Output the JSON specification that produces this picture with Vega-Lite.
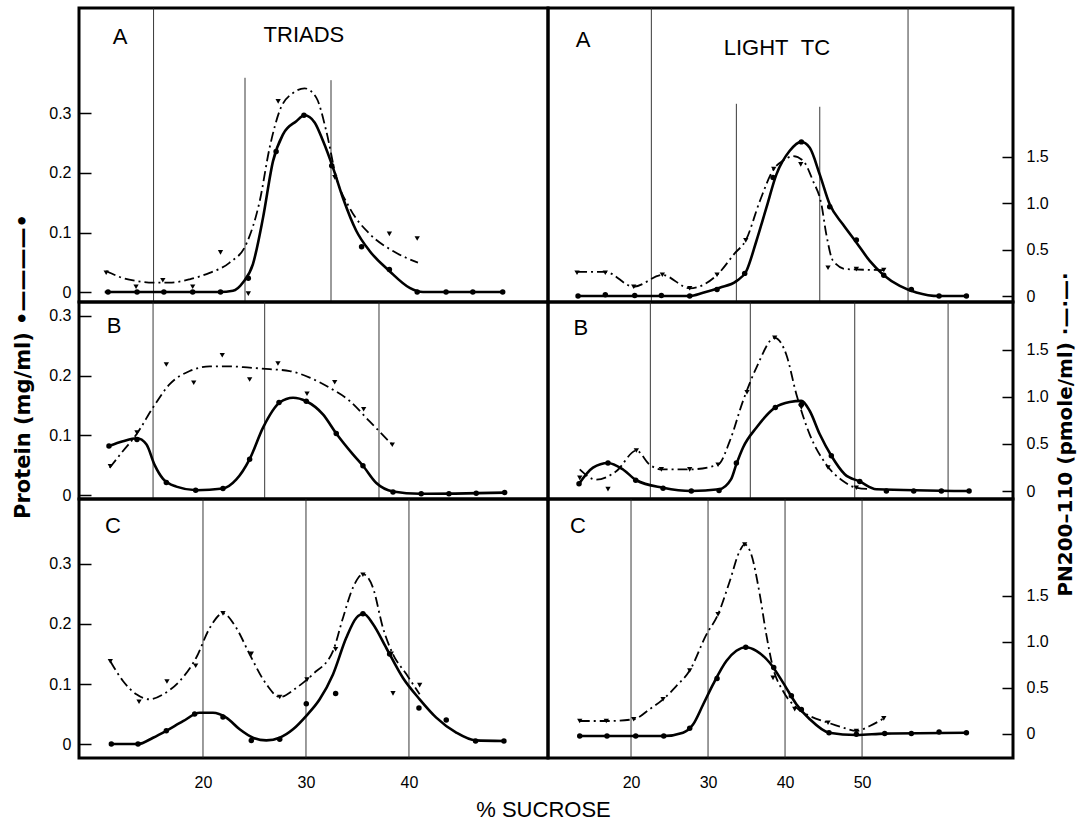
{
"$schema": "https://vega.github.io/schema/vega-lite/v6.json",
"padding": {"left": 10, "top": 6, "right": 1, "bottom": 2},
"background": "white",
"config": {"view": {"stroke": "black", "strokeWidth": 3}, "font": "Liberation Sans", "axis": {"labelFont": "Liberation Sans", "labelColor": "black", "titleColor": "black", "labelFlush": false, "labelOverlap": false, "labelBound": false}},
"title": {"text": "% SUCROSE", "orient": "bottom", "anchor": "middle", "fontSize": 22, "font": "Liberation Sans", "fontWeight": "normal", "offset": 8, "color": "black"},
"data": {"values": [
{"p":"AL","s":"g","x":15.2,"y":-1,"y2":1},{"p":"AL","s":"g","x":24.08,"y":-1,"y2":0.36},{"p":"AL","s":"g","x":32.43,"y":-1,"y2":0.356},
{"p":"AL","s":"pd","x":10.78,"y":0},{"p":"AL","s":"pd","x":13.6,"y":0},{"p":"AL","s":"pd","x":16.2,"y":0},{"p":"AL","s":"pd","x":19.0,"y":0},{"p":"AL","s":"pd","x":21.7,"y":0},{"p":"AL","s":"pd","x":24.4,"y":0.023},{"p":"AL","s":"pd","x":27.1,"y":0.236},{"p":"AL","s":"pd","x":29.8,"y":0.297},{"p":"AL","s":"pd","x":32.5,"y":0.212},{"p":"AL","s":"pd","x":35.4,"y":0.076},{"p":"AL","s":"pd","x":38.1,"y":0.038},{"p":"AL","s":"pd","x":40.8,"y":0},{"p":"AL","s":"pd","x":43.6,"y":0},{"p":"AL","s":"pd","x":46.2,"y":0},{"p":"AL","s":"pd","x":49.1,"y":0},
{"p":"AL","s":"pc","x":10.46,"y":0},{"p":"AL","s":"pc","x":21.62,"y":0},{"p":"AL","s":"pc","x":22.91,"y":0.002},{"p":"AL","s":"pc","x":23.88,"y":0.016},{"p":"AL","s":"pc","x":24.85,"y":0.047},{"p":"AL","s":"pc","x":25.83,"y":0.125},{"p":"AL","s":"pc","x":26.8,"y":0.22},{"p":"AL","s":"pc","x":27.77,"y":0.265},{"p":"AL","s":"pc","x":29.06,"y":0.287},{"p":"AL","s":"pc","x":29.87,"y":0.297},{"p":"AL","s":"pc","x":30.84,"y":0.285},{"p":"AL","s":"pc","x":31.65,"y":0.254},{"p":"AL","s":"pc","x":32.62,"y":0.209},{"p":"AL","s":"pc","x":33.59,"y":0.158},{"p":"AL","s":"pc","x":34.88,"y":0.103},{"p":"AL","s":"pc","x":36.18,"y":0.069},{"p":"AL","s":"pc","x":38.12,"y":0.035},{"p":"AL","s":"pc","x":40.07,"y":0.007},{"p":"AL","s":"pc","x":41.36,"y":0},{"p":"AL","s":"pc","x":49.13,"y":0},
{"p":"AL","s":"nd","x":10.6,"y":0.25},{"p":"AL","s":"nd","x":13.5,"y":0.10},{"p":"AL","s":"nd","x":16.1,"y":0.17},{"p":"AL","s":"nd","x":19.0,"y":0.10},{"p":"AL","s":"nd","x":21.7,"y":0.47},{"p":"AL","s":"nd","x":24.4,"y":0.025},{"p":"AL","s":"nd","x":27.3,"y":2.10},{"p":"AL","s":"nd","x":32.8,"y":1.28},{"p":"AL","s":"nd","x":38.1,"y":0.67},{"p":"AL","s":"nd","x":40.8,"y":0.62},
{"p":"AL","s":"nc","x":10.61,"y":0.27},{"p":"AL","s":"nc","x":11.91,"y":0.205},{"p":"AL","s":"nc","x":13.53,"y":0.162},{"p":"AL","s":"nc","x":15.15,"y":0.144},{"p":"AL","s":"nc","x":16.77,"y":0.144},{"p":"AL","s":"nc","x":18.71,"y":0.18},{"p":"AL","s":"nc","x":20.65,"y":0.25},{"p":"AL","s":"nc","x":22.59,"y":0.36},{"p":"AL","s":"nc","x":24.2,"y":0.56},{"p":"AL","s":"nc","x":25.5,"y":1.02},{"p":"AL","s":"nc","x":26.47,"y":1.6},{"p":"AL","s":"nc","x":27.45,"y":2.0},{"p":"AL","s":"nc","x":28.74,"y":2.19},{"p":"AL","s":"nc","x":29.87,"y":2.24},{"p":"AL","s":"nc","x":31.0,"y":2.14},{"p":"AL","s":"nc","x":31.97,"y":1.78},{"p":"AL","s":"nc","x":32.94,"y":1.28},{"p":"AL","s":"nc","x":34.24,"y":0.95},{"p":"AL","s":"nc","x":36.18,"y":0.67},{"p":"AL","s":"nc","x":38.45,"y":0.485},{"p":"AL","s":"nc","x":40.87,"y":0.36},
{"p":"AL","s":"lt","x":11.94,"y":0.4286,"t":"A"},{"p":"AL","s":"tt","x":29.8,"y":0.432,"t":"TRIADS"},

{"p":"AR","s":"g","x":22.64,"y":-1,"y2":1},{"p":"AR","s":"g","x":33.68,"y":-1,"y2":0.323},{"p":"AR","s":"g","x":44.51,"y":-1,"y2":0.318},{"p":"AR","s":"g","x":55.97,"y":-1,"y2":1},
{"p":"AR","s":"pd","x":13.12,"y":0},{"p":"AR","s":"pd","x":16.66,"y":0.002},{"p":"AR","s":"pd","x":20.48,"y":0.001},{"p":"AR","s":"pd","x":23.94,"y":0.001},{"p":"AR","s":"pd","x":27.62,"y":0},{"p":"AR","s":"pd","x":31.17,"y":0.011},{"p":"AR","s":"pd","x":34.76,"y":0.038},{"p":"AR","s":"pd","x":38.44,"y":0.199},{"p":"AR","s":"pd","x":42.12,"y":0.259},{"p":"AR","s":"pd","x":45.8,"y":0.15},{"p":"AR","s":"pd","x":49.26,"y":0.094},{"p":"AR","s":"pd","x":52.82,"y":0.035},{"p":"AR","s":"pd","x":56.4,"y":0.011},{"p":"AR","s":"pd","x":60.0,"y":0},{"p":"AR","s":"pd","x":63.55,"y":0},
{"p":"AR","s":"pc","x":13.12,"y":0},{"p":"AR","s":"pc","x":27.62,"y":0},{"p":"AR","s":"pc","x":29.35,"y":0.0055},{"p":"AR","s":"pc","x":31.52,"y":0.014},{"p":"AR","s":"pc","x":33.68,"y":0.025},{"p":"AR","s":"pc","x":34.98,"y":0.042},{"p":"AR","s":"pc","x":36.27,"y":0.092},{"p":"AR","s":"pc","x":37.57,"y":0.148},{"p":"AR","s":"pc","x":38.87,"y":0.204},{"p":"AR","s":"pc","x":40.61,"y":0.244},{"p":"AR","s":"pc","x":42.12,"y":0.259},{"p":"AR","s":"pc","x":43.21,"y":0.249},{"p":"AR","s":"pc","x":44.51,"y":0.204},{"p":"AR","s":"pc","x":45.8,"y":0.154},{"p":"AR","s":"pc","x":47.53,"y":0.12},{"p":"AR","s":"pc","x":49.26,"y":0.09},{"p":"AR","s":"pc","x":51.0,"y":0.059},{"p":"AR","s":"pc","x":52.82,"y":0.035},{"p":"AR","s":"pc","x":54.9,"y":0.017},{"p":"AR","s":"pc","x":57.05,"y":0.006},{"p":"AR","s":"pc","x":60.0,"y":0},{"p":"AR","s":"pc","x":63.55,"y":0},
{"p":"AR","s":"nd","x":12.99,"y":0.25},{"p":"AR","s":"nd","x":16.66,"y":0.25},{"p":"AR","s":"nd","x":20.35,"y":0.10},{"p":"AR","s":"nd","x":24.07,"y":0.23},{"p":"AR","s":"nd","x":27.62,"y":0.083},{"p":"AR","s":"nd","x":31.17,"y":0.23},{"p":"AR","s":"nd","x":34.9,"y":0.60},{"p":"AR","s":"nd","x":38.53,"y":1.37},{"p":"AR","s":"nd","x":42.04,"y":1.42},{"p":"AR","s":"nd","x":45.58,"y":0.305},{"p":"AR","s":"nd","x":49.26,"y":0.29},{"p":"AR","s":"nd","x":52.82,"y":0.28},
{"p":"AR","s":"nc","x":12.99,"y":0.26},{"p":"AR","s":"nc","x":16.66,"y":0.26},{"p":"AR","s":"nc","x":20.35,"y":0.10},{"p":"AR","s":"nc","x":24.07,"y":0.227},{"p":"AR","s":"nc","x":27.62,"y":0.083},{"p":"AR","s":"nc","x":31.17,"y":0.227},{"p":"AR","s":"nc","x":33.46,"y":0.46},{"p":"AR","s":"nc","x":34.9,"y":0.60},{"p":"AR","s":"nc","x":36.71,"y":1.02},{"p":"AR","s":"nc","x":38.53,"y":1.37},{"p":"AR","s":"nc","x":39.74,"y":1.46},{"p":"AR","s":"nc","x":41.04,"y":1.51},{"p":"AR","s":"nc","x":42.34,"y":1.46},{"p":"AR","s":"nc","x":43.64,"y":1.24},{"p":"AR","s":"nc","x":44.72,"y":0.99},{"p":"AR","s":"nc","x":45.37,"y":0.66},{"p":"AR","s":"nc","x":46.23,"y":0.38},{"p":"AR","s":"nc","x":47.96,"y":0.29},{"p":"AR","s":"nc","x":52.82,"y":0.28},
{"p":"AR","s":"lt","x":13.77,"y":0.43,"t":"A"},{"p":"AR","s":"tt","x":38.94,"y":0.416,"t":"LIGHT\u00a0\u00a0TC"},

{"p":"BL","s":"g","x":15.15,"y":-1,"y2":1},{"p":"BL","s":"g","x":25.99,"y":-1,"y2":1},{"p":"BL","s":"g","x":37.09,"y":-1,"y2":1},
{"p":"BL","s":"pd","x":10.87,"y":0.082},{"p":"BL","s":"pd","x":13.59,"y":0.093},{"p":"BL","s":"pd","x":16.44,"y":0.021},{"p":"BL","s":"pd","x":19.29,"y":0.008},{"p":"BL","s":"pd","x":21.94,"y":0.011},{"p":"BL","s":"pd","x":24.53,"y":0.06},{"p":"BL","s":"pd","x":27.38,"y":0.155},{"p":"BL","s":"pd","x":30.03,"y":0.157},{"p":"BL","s":"pd","x":32.94,"y":0.103},{"p":"BL","s":"pd","x":35.53,"y":0.049},{"p":"BL","s":"pd","x":38.45,"y":0.005},{"p":"BL","s":"pd","x":41.19,"y":0.002},{"p":"BL","s":"pd","x":43.88,"y":0.002},{"p":"BL","s":"pd","x":46.53,"y":0.003},{"p":"BL","s":"pd","x":49.29,"y":0.004},
{"p":"BL","s":"pc","x":10.87,"y":0.082},{"p":"BL","s":"pc","x":12.23,"y":0.09},{"p":"BL","s":"pc","x":13.59,"y":0.095},{"p":"BL","s":"pc","x":14.5,"y":0.085},{"p":"BL","s":"pc","x":15.31,"y":0.05},{"p":"BL","s":"pc","x":16.12,"y":0.027},{"p":"BL","s":"pc","x":17.41,"y":0.014},{"p":"BL","s":"pc","x":19.35,"y":0.008},{"p":"BL","s":"pc","x":21.94,"y":0.011},{"p":"BL","s":"pc","x":23.24,"y":0.026},{"p":"BL","s":"pc","x":24.53,"y":0.06},{"p":"BL","s":"pc","x":25.83,"y":0.113},{"p":"BL","s":"pc","x":27.45,"y":0.155},{"p":"BL","s":"pc","x":28.74,"y":0.163},{"p":"BL","s":"pc","x":30.03,"y":0.157},{"p":"BL","s":"pc","x":31.65,"y":0.135},{"p":"BL","s":"pc","x":32.94,"y":0.103},{"p":"BL","s":"pc","x":34.56,"y":0.068},{"p":"BL","s":"pc","x":35.53,"y":0.049},{"p":"BL","s":"pc","x":36.83,"y":0.02},{"p":"BL","s":"pc","x":38.45,"y":0.006},{"p":"BL","s":"pc","x":41.04,"y":0.002},{"p":"BL","s":"pc","x":49.29,"y":0.004},
{"p":"BL","s":"nd","x":11.0,"y":0.18},{"p":"BL","s":"nd","x":13.59,"y":0.54},{"p":"BL","s":"nd","x":16.44,"y":1.27},{"p":"BL","s":"nd","x":19.1,"y":1.075},{"p":"BL","s":"nd","x":21.87,"y":1.37},{"p":"BL","s":"nd","x":24.53,"y":1.11},{"p":"BL","s":"nd","x":27.28,"y":1.28},{"p":"BL","s":"nd","x":30.1,"y":0.957},{"p":"BL","s":"nd","x":32.79,"y":1.08},{"p":"BL","s":"nd","x":35.6,"y":0.79},{"p":"BL","s":"nd","x":38.38,"y":0.41},
{"p":"BL","s":"nc","x":10.94,"y":0.164},{"p":"BL","s":"nc","x":12.23,"y":0.343},{"p":"BL","s":"nc","x":13.53,"y":0.52},{"p":"BL","s":"nc","x":15.15,"y":0.81},{"p":"BL","s":"nc","x":16.77,"y":1.06},{"p":"BL","s":"nc","x":18.71,"y":1.2},{"p":"BL","s":"nc","x":20.65,"y":1.25},{"p":"BL","s":"nc","x":22.59,"y":1.25},{"p":"BL","s":"nc","x":24.53,"y":1.236},{"p":"BL","s":"nc","x":26.47,"y":1.22},{"p":"BL","s":"nc","x":28.42,"y":1.2},{"p":"BL","s":"nc","x":30.36,"y":1.13},{"p":"BL","s":"nc","x":32.3,"y":1.02},{"p":"BL","s":"nc","x":34.24,"y":0.88},{"p":"BL","s":"nc","x":36.18,"y":0.66},{"p":"BL","s":"nc","x":38.38,"y":0.41},
{"p":"BL","s":"lt","x":11.36,"y":0.283,"t":"B"},

{"p":"BR","s":"g","x":22.51,"y":-1,"y2":1},{"p":"BR","s":"g","x":35.49,"y":-1,"y2":1},{"p":"BR","s":"g","x":49.05,"y":-1,"y2":1},{"p":"BR","s":"g","x":61.17,"y":-1,"y2":1},
{"p":"BR","s":"pd","x":13.25,"y":0.012},{"p":"BR","s":"pd","x":17.01,"y":0.047},{"p":"BR","s":"pd","x":20.61,"y":0.018},{"p":"BR","s":"pd","x":24.16,"y":0.0045},{"p":"BR","s":"pd","x":27.83,"y":0},{"p":"BR","s":"pd","x":31.43,"y":0.001},{"p":"BR","s":"pd","x":33.68,"y":0.047},{"p":"BR","s":"pd","x":38.74,"y":0.14},{"p":"BR","s":"pd","x":42.12,"y":0.145},{"p":"BR","s":"pd","x":46.01,"y":0.059},{"p":"BR","s":"pd","x":49.7,"y":0.016},{"p":"BR","s":"pd","x":53.16,"y":0},{"p":"BR","s":"pd","x":56.71,"y":0},{"p":"BR","s":"pd","x":60.3,"y":0},{"p":"BR","s":"pd","x":63.9,"y":0},
{"p":"BR","s":"pc","x":13.25,"y":0.012},{"p":"BR","s":"pc","x":15.06,"y":0.039},{"p":"BR","s":"pc","x":17.01,"y":0.047},{"p":"BR","s":"pc","x":18.96,"y":0.036},{"p":"BR","s":"pc","x":20.69,"y":0.018},{"p":"BR","s":"pc","x":24.16,"y":0.0055},{"p":"BR","s":"pc","x":27.83,"y":0},{"p":"BR","s":"pc","x":31.43,"y":0.003},{"p":"BR","s":"pc","x":33.0,"y":0.02},{"p":"BR","s":"pc","x":33.68,"y":0.045},{"p":"BR","s":"pc","x":34.55,"y":0.073},{"p":"BR","s":"pc","x":36.27,"y":0.106},{"p":"BR","s":"pc","x":38.74,"y":0.14},{"p":"BR","s":"pc","x":40.61,"y":0.149},{"p":"BR","s":"pc","x":42.12,"y":0.151},{"p":"BR","s":"pc","x":43.21,"y":0.134},{"p":"BR","s":"pc","x":44.51,"y":0.095},{"p":"BR","s":"pc","x":46.01,"y":0.059},{"p":"BR","s":"pc","x":47.75,"y":0.028},{"p":"BR","s":"pc","x":49.7,"y":0.016},{"p":"BR","s":"pc","x":51.86,"y":0.003},{"p":"BR","s":"pc","x":63.9,"y":0},
{"p":"BR","s":"nd","x":13.34,"y":0.14},{"p":"BR","s":"nd","x":17.01,"y":0.02},{"p":"BR","s":"nd","x":20.69,"y":0.43},{"p":"BR","s":"nd","x":23.94,"y":0.23},{"p":"BR","s":"nd","x":27.62,"y":0.23},{"p":"BR","s":"nd","x":31.3,"y":0.28},{"p":"BR","s":"nd","x":35.06,"y":1.05},{"p":"BR","s":"nd","x":38.66,"y":1.63},{"p":"BR","s":"nd","x":42.12,"y":0.89},{"p":"BR","s":"nd","x":45.58,"y":0.25},{"p":"BR","s":"nd","x":49.26,"y":0.035},
{"p":"BR","s":"nc","x":13.34,"y":0.23},{"p":"BR","s":"nc","x":15.49,"y":0.12},{"p":"BR","s":"nc","x":18.09,"y":0.21},{"p":"BR","s":"nc","x":20.69,"y":0.43},{"p":"BR","s":"nc","x":22.42,"y":0.28},{"p":"BR","s":"nc","x":23.94,"y":0.23},{"p":"BR","s":"nc","x":27.62,"y":0.23},{"p":"BR","s":"nc","x":31.3,"y":0.28},{"p":"BR","s":"nc","x":32.82,"y":0.53},{"p":"BR","s":"nc","x":34.55,"y":0.96},{"p":"BR","s":"nc","x":36.27,"y":1.31},{"p":"BR","s":"nc","x":38.66,"y":1.63},{"p":"BR","s":"nc","x":40.17,"y":1.45},{"p":"BR","s":"nc","x":41.47,"y":1.03},{"p":"BR","s":"nc","x":43.21,"y":0.6},{"p":"BR","s":"nc","x":45.37,"y":0.28},{"p":"BR","s":"nc","x":47.53,"y":0.106},{"p":"BR","s":"nc","x":49.26,"y":0.035},{"p":"BR","s":"nc","x":51.0,"y":0.02},
{"p":"BR","s":"lt","x":13.5,"y":0.273,"t":"B"},

{"p":"CL","s":"g","x":20,"y":-1,"y2":1},{"p":"CL","s":"g","x":30,"y":-1,"y2":1},{"p":"CL","s":"g","x":40,"y":-1,"y2":1},
{"p":"CL","s":"pd","x":11.1,"y":0},{"p":"CL","s":"pd","x":13.69,"y":0},{"p":"CL","s":"pd","x":16.44,"y":0.022},{"p":"CL","s":"pd","x":19.19,"y":0.05},{"p":"CL","s":"pd","x":21.94,"y":0.045},{"p":"CL","s":"pd","x":24.69,"y":0.006},{"p":"CL","s":"pd","x":27.45,"y":0.008},{"p":"CL","s":"pd","x":30.03,"y":0.067},{"p":"CL","s":"pd","x":32.88,"y":0.084},{"p":"CL","s":"pd","x":35.53,"y":0.217},{"p":"CL","s":"pd","x":38.12,"y":0.15},{"p":"CL","s":"pd","x":40.97,"y":0.06},{"p":"CL","s":"pd","x":43.62,"y":0.04},{"p":"CL","s":"pd","x":46.47,"y":0.005},{"p":"CL","s":"pd","x":49.22,"y":0.005},
{"p":"CL","s":"pc","x":11.1,"y":0},{"p":"CL","s":"pc","x":13.69,"y":0},{"p":"CL","s":"pc","x":15.15,"y":0.0105},{"p":"CL","s":"pc","x":16.44,"y":0.022},{"p":"CL","s":"pc","x":18.06,"y":0.038},{"p":"CL","s":"pc","x":19.68,"y":0.052},{"p":"CL","s":"pc","x":20.97,"y":0.052},{"p":"CL","s":"pc","x":22.26,"y":0.044},{"p":"CL","s":"pc","x":23.56,"y":0.0245},{"p":"CL","s":"pc","x":24.85,"y":0.0105},{"p":"CL","s":"pc","x":26.15,"y":0.006},{"p":"CL","s":"pc","x":27.45,"y":0.0105},{"p":"CL","s":"pc","x":28.74,"y":0.0245},{"p":"CL","s":"pc","x":30.03,"y":0.047},{"p":"CL","s":"pc","x":31.33,"y":0.0745},{"p":"CL","s":"pc","x":32.62,"y":0.116},{"p":"CL","s":"pc","x":33.91,"y":0.177},{"p":"CL","s":"pc","x":34.88,"y":0.21},{"p":"CL","s":"pc","x":35.6,"y":0.217},{"p":"CL","s":"pc","x":36.5,"y":0.2},{"p":"CL","s":"pc","x":37.8,"y":0.16},{"p":"CL","s":"pc","x":39.42,"y":0.11},{"p":"CL","s":"pc","x":41.04,"y":0.0745},{"p":"CL","s":"pc","x":42.65,"y":0.044},{"p":"CL","s":"pc","x":44.59,"y":0.019},{"p":"CL","s":"pc","x":46.47,"y":0.006},{"p":"CL","s":"pc","x":49.22,"y":0.005},
{"p":"CL","s":"nd","x":11.0,"y":0.9},{"p":"CL","s":"nd","x":13.79,"y":0.46},{"p":"CL","s":"nd","x":16.5,"y":0.68},{"p":"CL","s":"nd","x":19.29,"y":0.85},{"p":"CL","s":"nd","x":21.94,"y":1.42},{"p":"CL","s":"nd","x":24.69,"y":0.98},{"p":"CL","s":"nd","x":27.45,"y":0.51},{"p":"CL","s":"nd","x":30.1,"y":0.7},{"p":"CL","s":"nd","x":32.88,"y":1.03},{"p":"CL","s":"nd","x":35.53,"y":1.84},{"p":"CL","s":"nd","x":38.28,"y":0.98},{"p":"CL","s":"nd","x":38.45,"y":0.55},{"p":"CL","s":"nd","x":41.04,"y":0.64},
{"p":"CL","s":"nc","x":11.0,"y":0.9},{"p":"CL","s":"nc","x":12.23,"y":0.685},{"p":"CL","s":"nc","x":13.53,"y":0.54},{"p":"CL","s":"nc","x":14.82,"y":0.486},{"p":"CL","s":"nc","x":16.12,"y":0.54},{"p":"CL","s":"nc","x":17.74,"y":0.685},{"p":"CL","s":"nc","x":19.35,"y":0.94},{"p":"CL","s":"nc","x":20.65,"y":1.26},{"p":"CL","s":"nc","x":21.94,"y":1.42},{"p":"CL","s":"nc","x":23.24,"y":1.26},{"p":"CL","s":"nc","x":24.53,"y":0.975},{"p":"CL","s":"nc","x":26.15,"y":0.65},{"p":"CL","s":"nc","x":27.45,"y":0.51},{"p":"CL","s":"nc","x":29.06,"y":0.61},{"p":"CL","s":"nc","x":30.68,"y":0.76},{"p":"CL","s":"nc","x":32.62,"y":1.01},{"p":"CL","s":"nc","x":33.59,"y":1.37},{"p":"CL","s":"nc","x":34.56,"y":1.7},{"p":"CL","s":"nc","x":35.53,"y":1.845},{"p":"CL","s":"nc","x":36.5,"y":1.7},{"p":"CL","s":"nc","x":37.48,"y":1.26},{"p":"CL","s":"nc","x":38.45,"y":0.975},{"p":"CL","s":"nc","x":39.74,"y":0.76},{"p":"CL","s":"nc","x":41.04,"y":0.54},
{"p":"CL","s":"lt","x":11.26,"y":0.363,"t":"C"},

{"p":"CR","s":"g","x":20,"y":-1,"y2":1},{"p":"CR","s":"g","x":30,"y":-1,"y2":1},{"p":"CR","s":"g","x":40,"y":-1,"y2":1},{"p":"CR","s":"g","x":50,"y":-1,"y2":1},
{"p":"CR","s":"pd","x":13.34,"y":0},{"p":"CR","s":"pd","x":16.88,"y":0},{"p":"CR","s":"pd","x":20.61,"y":0},{"p":"CR","s":"pd","x":24.25,"y":0},{"p":"CR","s":"pd","x":27.62,"y":0.013},{"p":"CR","s":"pd","x":31.17,"y":0.096},{"p":"CR","s":"pd","x":34.9,"y":0.148},{"p":"CR","s":"pd","x":38.53,"y":0.114},{"p":"CR","s":"pd","x":40.82,"y":0.067},{"p":"CR","s":"pd","x":42.12,"y":0.044},{"p":"CR","s":"pd","x":45.71,"y":0.0055},{"p":"CR","s":"pd","x":49.26,"y":0.003},{"p":"CR","s":"pd","x":52.94,"y":0.004},{"p":"CR","s":"pd","x":56.4,"y":0.004},{"p":"CR","s":"pd","x":60.0,"y":0.0067},{"p":"CR","s":"pd","x":63.55,"y":0.0055},
{"p":"CR","s":"pc","x":13.34,"y":0},{"p":"CR","s":"pc","x":20.61,"y":0},{"p":"CR","s":"pc","x":24.25,"y":0},{"p":"CR","s":"pc","x":26.75,"y":0.0055},{"p":"CR","s":"pc","x":28.05,"y":0.019},{"p":"CR","s":"pc","x":29.35,"y":0.052},{"p":"CR","s":"pc","x":30.65,"y":0.086},{"p":"CR","s":"pc","x":32.38,"y":0.125},{"p":"CR","s":"pc","x":33.68,"y":0.142},{"p":"CR","s":"pc","x":34.9,"y":0.148},{"p":"CR","s":"pc","x":36.27,"y":0.142},{"p":"CR","s":"pc","x":38.01,"y":0.122},{"p":"CR","s":"pc","x":39.74,"y":0.089},{"p":"CR","s":"pc","x":41.47,"y":0.053},{"p":"CR","s":"pc","x":43.21,"y":0.028},{"p":"CR","s":"pc","x":45.71,"y":0.0055},{"p":"CR","s":"pc","x":49.26,"y":0.0017},{"p":"CR","s":"pc","x":52.94,"y":0.004},{"p":"CR","s":"pc","x":63.55,"y":0.0055},
{"p":"CR","s":"nd","x":13.34,"y":0.141},{"p":"CR","s":"nd","x":16.79,"y":0.141},{"p":"CR","s":"nd","x":20.35,"y":0.16},{"p":"CR","s":"nd","x":24.16,"y":0.377},{"p":"CR","s":"nd","x":27.62,"y":0.69},{"p":"CR","s":"nd","x":31.3,"y":1.3},{"p":"CR","s":"nd","x":34.76,"y":2.06},{"p":"CR","s":"nd","x":38.44,"y":0.61},{"p":"CR","s":"nd","x":41.26,"y":0.27},{"p":"CR","s":"nd","x":45.58,"y":0.123},{"p":"CR","s":"nd","x":49.26,"y":0.033},{"p":"CR","s":"nd","x":52.82,"y":0.17},
{"p":"CR","s":"nc","x":13.34,"y":0.141},{"p":"CR","s":"nc","x":16.79,"y":0.141},{"p":"CR","s":"nc","x":20.35,"y":0.16},{"p":"CR","s":"nc","x":22.42,"y":0.27},{"p":"CR","s":"nc","x":24.16,"y":0.377},{"p":"CR","s":"nc","x":25.88,"y":0.52},{"p":"CR","s":"nc","x":27.62,"y":0.69},{"p":"CR","s":"nc","x":29.78,"y":1.08},{"p":"CR","s":"nc","x":31.3,"y":1.3},{"p":"CR","s":"nc","x":32.82,"y":1.66},{"p":"CR","s":"nc","x":34.12,"y":1.99},{"p":"CR","s":"nc","x":34.76,"y":2.06},{"p":"CR","s":"nc","x":35.62,"y":1.95},{"p":"CR","s":"nc","x":36.71,"y":1.52},{"p":"CR","s":"nc","x":37.57,"y":1.08},{"p":"CR","s":"nc","x":38.44,"y":0.72},{"p":"CR","s":"nc","x":39.74,"y":0.467},{"p":"CR","s":"nc","x":41.47,"y":0.286},{"p":"CR","s":"nc","x":43.21,"y":0.196},{"p":"CR","s":"nc","x":45.58,"y":0.123},{"p":"CR","s":"nc","x":47.53,"y":0.069},{"p":"CR","s":"nc","x":49.26,"y":0.033},{"p":"CR","s":"nc","x":51.0,"y":0.087},{"p":"CR","s":"nc","x":52.82,"y":0.17},
{"p":"CR","s":"lt","x":13.12,"y":0.35,"t":"C"}
]},
"spacing": 0,
"columns": 2,
"bounds": "flush",
"concat": [
 {"width": 469, "height": 294, "transform": [{"filter": "datum.p == 'AL'"}],
  "layer": [
   {"encoding": {"x": {"field": "x", "type": "quantitative", "scale": {"domain": [7.96, 53.5], "nice": false, "zero": false}, "axis": null},
                 "y": {"field": "y", "type": "quantitative", "scale": {"domain": [-0.0168, 0.4773], "nice": false, "zero": false},
                       "axis": {"orient": "left", "values": [0, 0.1, 0.2, 0.3], "format": ".1~f", "tickSize": -12, "tickWidth": 1.5, "tickColor": "black", "labelPadding": 20, "labelFontSize": 16, "domain": false, "grid": false, "title": null}}},
    "layer": [
     {"transform": [{"filter": "datum.s == 'g'"}], "mark": {"type": "rule", "color": "#222", "strokeWidth": 0.9, "clip": true}, "encoding": {"y2": {"field": "y2"}}},
     {"transform": [{"filter": "datum.s == 'pc'"}], "mark": {"type": "line", "interpolate": "monotone", "color": "black", "strokeWidth": 2.6}},
     {"transform": [{"filter": "datum.s == 'pd'"}], "mark": {"type": "point", "shape": "circle", "filled": true, "opacity": 1, "color": "black", "size": 30}},
     {"transform": [{"filter": "datum.s == 'lt' || datum.s == 'tt'"}], "mark": {"type": "text", "fontSize": 22, "font": "Liberation Sans", "align": "center", "baseline": "middle", "color": "black"}, "encoding": {"text": {"field": "t"}}}
    ]},
   {"encoding": {"x": {"field": "x", "type": "quantitative", "scale": {"domain": [7.96, 53.5], "nice": false, "zero": false}, "axis": null},
                 "y": {"field": "y", "type": "quantitative", "scale": {"domain": [-0.065, 3.107], "nice": false, "zero": false}, "axis": null}},
    "layer": [
     {"transform": [{"filter": "datum.s == 'nc'"}], "mark": {"type": "line", "interpolate": "monotone", "color": "black", "strokeWidth": 1.8, "strokeDash": [10, 4, 2, 4]}},
     {"transform": [{"filter": "datum.s == 'nd'"}], "mark": {"type": "point", "shape": "triangle-down", "filled": true, "opacity": 1, "color": "black", "size": 28}}
    ]}
  ],
  "resolve": {"scale": {"y": "independent"}, "axis": {"y": "independent"}}},
 {"width": 465, "height": 294, "transform": [{"filter": "datum.p == 'AR'"}],
  "layer": [
   {"encoding": {"x": {"field": "x", "type": "quantitative", "scale": {"domain": [9.22, 69.6], "nice": false, "zero": false}, "axis": null},
                 "y": {"field": "y", "type": "quantitative", "scale": {"domain": [-0.0101, 0.484], "nice": false, "zero": false}, "axis": null}},
    "layer": [
     {"transform": [{"filter": "datum.s == 'g'"}], "mark": {"type": "rule", "color": "#222", "strokeWidth": 0.9, "clip": true}, "encoding": {"y2": {"field": "y2"}}},
     {"transform": [{"filter": "datum.s == 'pc'"}], "mark": {"type": "line", "interpolate": "monotone", "color": "black", "strokeWidth": 2.6}},
     {"transform": [{"filter": "datum.s == 'pd'"}], "mark": {"type": "point", "shape": "circle", "filled": true, "opacity": 1, "color": "black", "size": 30}},
     {"transform": [{"filter": "datum.s == 'lt' || datum.s == 'tt'"}], "mark": {"type": "text", "fontSize": 22, "font": "Liberation Sans", "align": "center", "baseline": "middle", "color": "black"}, "encoding": {"text": {"field": "t"}}}
    ]},
   {"encoding": {"x": {"field": "x", "type": "quantitative", "scale": {"domain": [9.22, 69.6], "nice": false, "zero": false}, "axis": null},
                 "y": {"field": "y", "type": "quantitative", "scale": {"domain": [-0.0647, 3.107], "nice": false, "zero": false},
                       "axis": {"orient": "right", "values": [0, 0.5, 1, 1.5], "labelExpr": "datum.value == 0 ? '0' : format(datum.value, '.1f')", "tickSize": -11, "tickWidth": 1.5, "tickColor": "black", "labelPadding": 24, "labelFontSize": 16, "domain": false, "grid": false, "title": null}}},
    "layer": [
     {"transform": [{"filter": "datum.s == 'nc'"}], "mark": {"type": "line", "interpolate": "monotone", "color": "black", "strokeWidth": 1.8, "strokeDash": [10, 4, 2, 4]}},
     {"transform": [{"filter": "datum.s == 'nd'"}], "mark": {"type": "point", "shape": "triangle-down", "filled": true, "opacity": 1, "color": "black", "size": 28}}
    ]}
  ],
  "resolve": {"scale": {"y": "independent"}, "axis": {"y": "independent"}}},
 {"width": 469, "height": 197, "transform": [{"filter": "datum.p == 'BL'"}],
  "layer": [
   {"encoding": {"x": {"field": "x", "type": "quantitative", "scale": {"domain": [7.96, 53.5], "nice": false, "zero": false}, "axis": null},
                 "y": {"field": "y", "type": "quantitative", "scale": {"domain": [-0.0067, 0.3233], "nice": false, "zero": false},
                       "axis": {"orient": "left", "values": [0, 0.1, 0.2, 0.3], "format": ".1~f", "tickSize": -12, "tickWidth": 1.5, "tickColor": "black", "labelPadding": 20, "labelFontSize": 16, "domain": false, "grid": false,
                                "title": "Protein (mg/ml)  •————•", "titleFont": "DejaVu Sans", "titleFontSize": 21, "titleFontWeight": "bold", "titleX": -56, "titleY": 64, "titleAngle": 270, "titleAlign": "center", "titleBaseline": "middle"}}},
    "layer": [
     {"transform": [{"filter": "datum.s == 'g'"}], "mark": {"type": "rule", "color": "#222", "strokeWidth": 0.9, "clip": true}, "encoding": {"y2": {"field": "y2"}}},
     {"transform": [{"filter": "datum.s == 'pc'"}], "mark": {"type": "line", "interpolate": "monotone", "color": "black", "strokeWidth": 2.6}},
     {"transform": [{"filter": "datum.s == 'pd'"}], "mark": {"type": "point", "shape": "circle", "filled": true, "opacity": 1, "color": "black", "size": 30}},
     {"transform": [{"filter": "datum.s == 'lt' || datum.s == 'tt'"}], "mark": {"type": "text", "fontSize": 22, "font": "Liberation Sans", "align": "center", "baseline": "middle", "color": "black"}, "encoding": {"text": {"field": "t"}}}
    ]},
   {"encoding": {"x": {"field": "x", "type": "quantitative", "scale": {"domain": [7.96, 53.5], "nice": false, "zero": false}, "axis": null},
                 "y": {"field": "y", "type": "quantitative", "scale": {"domain": [-0.1715, 1.94], "nice": false, "zero": false}, "axis": null}},
    "layer": [
     {"transform": [{"filter": "datum.s == 'nc'"}], "mark": {"type": "line", "interpolate": "monotone", "color": "black", "strokeWidth": 1.8, "strokeDash": [10, 4, 2, 4]}},
     {"transform": [{"filter": "datum.s == 'nd'"}], "mark": {"type": "point", "shape": "triangle-down", "filled": true, "opacity": 1, "color": "black", "size": 28}}
    ]}
  ],
  "resolve": {"scale": {"y": "independent"}, "axis": {"y": "independent"}}},
 {"width": 465, "height": 197, "transform": [{"filter": "datum.p == 'BR'"}],
  "layer": [
   {"encoding": {"x": {"field": "x", "type": "quantitative", "scale": {"domain": [9.22, 69.6], "nice": false, "zero": false}, "axis": null},
                 "y": {"field": "y", "type": "quantitative", "scale": {"domain": [-0.0134, 0.3166], "nice": false, "zero": false}, "axis": null}},
    "layer": [
     {"transform": [{"filter": "datum.s == 'g'"}], "mark": {"type": "rule", "color": "#222", "strokeWidth": 0.9, "clip": true}, "encoding": {"y2": {"field": "y2"}}},
     {"transform": [{"filter": "datum.s == 'pc'"}], "mark": {"type": "line", "interpolate": "monotone", "color": "black", "strokeWidth": 2.6}},
     {"transform": [{"filter": "datum.s == 'pd'"}], "mark": {"type": "point", "shape": "circle", "filled": true, "opacity": 1, "color": "black", "size": 30}},
     {"transform": [{"filter": "datum.s == 'lt' || datum.s == 'tt'"}], "mark": {"type": "text", "fontSize": 22, "font": "Liberation Sans", "align": "center", "baseline": "middle", "color": "black"}, "encoding": {"text": {"field": "t"}}}
    ]},
   {"encoding": {"x": {"field": "x", "type": "quantitative", "scale": {"domain": [9.22, 69.6], "nice": false, "zero": false}, "axis": null},
                 "y": {"field": "y", "type": "quantitative", "scale": {"domain": [-0.0851, 2.0106], "nice": false, "zero": false},
                       "axis": {"orient": "right", "values": [0, 0.5, 1, 1.5], "labelExpr": "datum.value == 0 ? '0' : format(datum.value, '.1f')", "tickSize": -11, "tickWidth": 1.5, "tickColor": "black", "labelPadding": 24, "labelFontSize": 16, "domain": false, "grid": false,
                                "title": "PN200–110 (pmole/ml)  ·—·—·", "titleFont": "DejaVu Sans", "titleFontSize": 20, "titleFontWeight": "bold", "titleX": 52, "titleY": 132, "titleAngle": 270, "titleAlign": "center", "titleBaseline": "middle"}}},
    "layer": [
     {"transform": [{"filter": "datum.s == 'nc'"}], "mark": {"type": "line", "interpolate": "monotone", "color": "black", "strokeWidth": 1.8, "strokeDash": [10, 4, 2, 4]}},
     {"transform": [{"filter": "datum.s == 'nd'"}], "mark": {"type": "point", "shape": "triangle-down", "filled": true, "opacity": 1, "color": "black", "size": 28}}
    ]}
  ],
  "resolve": {"scale": {"y": "independent"}, "axis": {"y": "independent"}}},
 {"width": 469, "height": 259, "transform": [{"filter": "datum.p == 'CL'"}],
  "layer": [
   {"encoding": {"x": {"field": "x", "type": "quantitative", "scale": {"domain": [7.96, 53.5], "nice": false, "zero": false}, "axis": {"values": [20, 30, 40], "ticks": false, "domain": false, "grid": false, "labelPadding": 16, "labelFontSize": 16, "title": null}},
                 "y": {"field": "y", "type": "quantitative", "scale": {"domain": [-0.0233, 0.4083], "nice": false, "zero": false},
                       "axis": {"orient": "left", "values": [0, 0.1, 0.2, 0.3], "format": ".1~f", "tickSize": -12, "tickWidth": 1.5, "tickColor": "black", "labelPadding": 20, "labelFontSize": 16, "domain": false, "grid": false, "title": null}}},
    "layer": [
     {"transform": [{"filter": "datum.s == 'g'"}], "mark": {"type": "rule", "color": "#222", "strokeWidth": 0.9, "clip": true}, "encoding": {"y2": {"field": "y2"}}},
     {"transform": [{"filter": "datum.s == 'pc'"}], "mark": {"type": "line", "interpolate": "monotone", "color": "black", "strokeWidth": 2.6}},
     {"transform": [{"filter": "datum.s == 'pd'"}], "mark": {"type": "point", "shape": "circle", "filled": true, "opacity": 1, "color": "black", "size": 30}},
     {"transform": [{"filter": "datum.s == 'lt' || datum.s == 'tt'"}], "mark": {"type": "text", "fontSize": 22, "font": "Liberation Sans", "align": "center", "baseline": "middle", "color": "black"}, "encoding": {"text": {"field": "t"}}}
    ]},
   {"encoding": {"x": {"field": "x", "type": "quantitative", "scale": {"domain": [7.96, 53.5], "nice": false, "zero": false}, "axis": {"values": [20, 30, 40], "ticks": false, "domain": false, "grid": false, "labelPadding": 16, "labelFontSize": 16, "title": null}},
                 "y": {"field": "y", "type": "quantitative", "scale": {"domain": [-0.1522, 2.663], "nice": false, "zero": false}, "axis": null}},
    "layer": [
     {"transform": [{"filter": "datum.s == 'nc'"}], "mark": {"type": "line", "interpolate": "monotone", "color": "black", "strokeWidth": 1.8, "strokeDash": [10, 4, 2, 4]}},
     {"transform": [{"filter": "datum.s == 'nd'"}], "mark": {"type": "point", "shape": "triangle-down", "filled": true, "opacity": 1, "color": "black", "size": 28}}
    ]}
  ],
  "resolve": {"scale": {"y": "independent"}, "axis": {"y": "independent"}}},
 {"width": 465, "height": 259, "transform": [{"filter": "datum.p == 'CR'"}],
  "layer": [
   {"encoding": {"x": {"field": "x", "type": "quantitative", "scale": {"domain": [9.22, 69.6], "nice": false, "zero": false}, "axis": {"values": [20, 30, 40, 50], "ticks": false, "domain": false, "grid": false, "labelPadding": 16, "labelFontSize": 16, "title": null}},
                 "y": {"field": "y", "type": "quantitative", "scale": {"domain": [-0.0367, 0.395], "nice": false, "zero": false}, "axis": null}},
    "layer": [
     {"transform": [{"filter": "datum.s == 'g'"}], "mark": {"type": "rule", "color": "#222", "strokeWidth": 0.9, "clip": true}, "encoding": {"y2": {"field": "y2"}}},
     {"transform": [{"filter": "datum.s == 'pc'"}], "mark": {"type": "line", "interpolate": "monotone", "color": "black", "strokeWidth": 2.6}},
     {"transform": [{"filter": "datum.s == 'pd'"}], "mark": {"type": "point", "shape": "circle", "filled": true, "opacity": 1, "color": "black", "size": 30}},
     {"transform": [{"filter": "datum.s == 'lt' || datum.s == 'tt'"}], "mark": {"type": "text", "fontSize": 22, "font": "Liberation Sans", "align": "center", "baseline": "middle", "color": "black"}, "encoding": {"text": {"field": "t"}}}
    ]},
   {"encoding": {"x": {"field": "x", "type": "quantitative", "scale": {"domain": [9.22, 69.6], "nice": false, "zero": false}, "axis": {"values": [20, 30, 40, 50], "ticks": false, "domain": false, "grid": false, "labelPadding": 16, "labelFontSize": 16, "title": null}},
                 "y": {"field": "y", "type": "quantitative", "scale": {"domain": [-0.2609, 2.554], "nice": false, "zero": false},
                       "axis": {"orient": "right", "values": [0, 0.5, 1, 1.5], "labelExpr": "datum.value == 0 ? '0' : format(datum.value, '.1f')", "tickSize": -11, "tickWidth": 1.5, "tickColor": "black", "labelPadding": 24, "labelFontSize": 16, "domain": false, "grid": false, "title": null}}},
    "layer": [
     {"transform": [{"filter": "datum.s == 'nc'"}], "mark": {"type": "line", "interpolate": "monotone", "color": "black", "strokeWidth": 1.8, "strokeDash": [10, 4, 2, 4]}},
     {"transform": [{"filter": "datum.s == 'nd'"}], "mark": {"type": "point", "shape": "triangle-down", "filled": true, "opacity": 1, "color": "black", "size": 28}}
    ]}
  ],
  "resolve": {"scale": {"y": "independent"}, "axis": {"y": "independent"}}}
]
}
